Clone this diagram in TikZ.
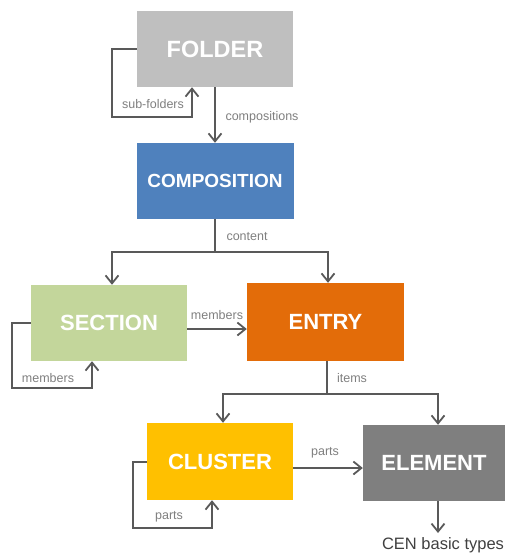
\documentclass[tikz,border=0pt]{standalone}
\usepackage{fontspec}
\setmainfont{Liberation Sans}
\usetikzlibrary{arrows.meta,calc}
\definecolor{foldergray}{HTML}{BFBFBF}
\definecolor{compblue}{HTML}{4F81BD}
\definecolor{sectgreen}{HTML}{C3D69B}
\definecolor{entryorange}{HTML}{E36C09}
\definecolor{clusteryellow}{HTML}{FFC000}
\definecolor{elemgray}{HTML}{7F7F7F}
\definecolor{linegray}{HTML}{595959}
\definecolor{labelgray}{HTML}{7F7F7F}
\begin{document}
\begin{tikzpicture}[x=1pt,y=-1pt,
  box/.style={rectangle, inner sep=0pt, text=white,
    font=\fontsize{22}{22}\selectfont\bfseries},
  line/.style={draw=linegray, line width=2pt},
  arr/.style={line, -{Straight Barb[length=8pt,width=13pt,line width=1.8pt]}},
  lbl/.style={text=labelgray, font=\fontsize{12.5}{13}\selectfont, inner sep=0pt}
]
\useasboundingbox (0,0) rectangle (507,554);

% boxes
\node[box, fill=foldergray, minimum width=156pt, minimum height=76pt,
  font=\fontsize{23.5}{24}\selectfont\bfseries] (folder) at (215,49) {FOLDER};
\node[box, fill=compblue, minimum width=157pt, minimum height=76pt,
  font=\fontsize{19}{19}\selectfont\bfseries] (comp) at (215,181) {COMPOSITION};
\node[box, fill=sectgreen, minimum width=156pt, minimum height=76pt] (section) at (109,323) {SECTION};
\node[box, fill=entryorange, minimum width=157pt, minimum height=78pt] (entry) at (325.5,322) {ENTRY};
\node[box, fill=clusteryellow, minimum width=146pt, minimum height=77pt] (cluster) at (220,461.5) {CLUSTER};
\node[box, fill=elemgray, minimum width=142pt, minimum height=76pt] (element) at (434,463) {ELEMENT};
\node[text=black!75, font=\fontsize{16.5}{17}\selectfont, inner sep=0pt] (cen) at (443,545) {CEN basic types};

% junction points of the branching connectors
\coordinate (cj) at (215,252);
\coordinate (ej) at (327,394);
\coordinate (cenin) at (438,533);

% folder
\draw[arr] (folder.south) -- (comp.north);
\draw[arr] (folder.west) -- ++(-25,0) -- ++(0,68) -| ([xshift=-23pt]folder.south);
\node[lbl] (lcomps) at (262,117) {compositions};
\node[lbl] (lsub) at (153,104) {sub-folders};

% composition content
\draw[line] (comp.south) -- (cj);
\draw[arr] (cj) -| ([xshift=3pt]section.north);
\draw[arr] (cj) -| ([xshift=2.5pt]entry.north);
\node[lbl] (lcontent) at (247,237) {content};

% section
\draw[arr] ([yshift=-6pt]section.east) -- ([yshift=-6pt]section.east -| entry.west);
\draw[arr] (section.west) -- ++(-19,0) -- ++(0,65) -| ([xshift=-17pt]section.south);
\node[lbl] (lmem1) at (217,315) {members};
\node[lbl] (lmem2) at (48,378) {members};

% entry items
\draw[line] ([xshift=1.5pt]entry.south) -- (ej);
\draw[arr] (ej) -| ([xshift=3pt]cluster.north);
\draw[arr] (ej) -| ([xshift=4pt]element.north);
\node[lbl] (litems) at (352,378) {items};

% cluster
\draw[arr] ([yshift=-6.5pt]cluster.east) -- ([yshift=-6.5pt]cluster.east -| element.west);
\draw[arr] (cluster.west) -- ++(-14,0) -- ++(0,66.5) -| ([xshift=-8pt]cluster.south);
\node[lbl] (lparts1) at (325,453) {parts};
\node[lbl] (lparts2) at (169,517) {parts};

% element
\draw[arr] ([xshift=4pt]element.south) -- (cenin);
\end{tikzpicture}
\end{document}
